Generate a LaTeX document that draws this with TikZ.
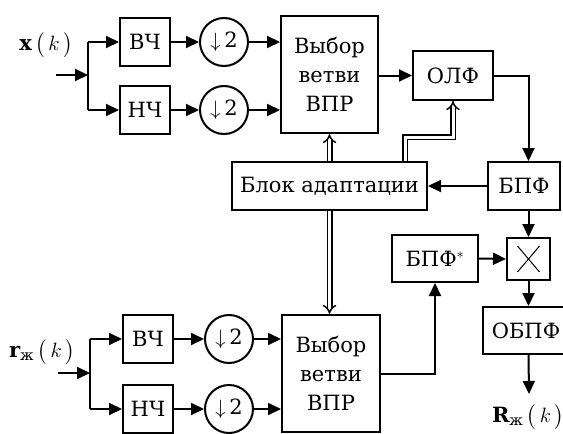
\documentclass[tikz,border=0pt]{standalone}
\usepackage{amsmath}
\usepackage{fontspec}
\setmainfont{DejaVu Serif}
\usepackage{tikz}
\usetikzlibrary{arrows.meta}

\begin{document}
\begin{tikzpicture}[
    x=1pt, y=-1pt,
    >={Triangle[length=13pt,width=12pt]},
    line width=2pt,
    txt/.style={font=\fontsize{21}{29}\selectfont, inner sep=0pt},
    blok/.style={txt, draw, rectangle, align=center},
    dec/.style={txt, draw, circle, minimum size=48pt},
    arr/.style={->},
    dbl/.style={double, double distance=3pt, line width=1.5pt, -{Implies[scale=1.6]}}
]

\useasboundingbox (0,0) rectangle (563,434);

% Входной сигнал x(k)
\node[txt] (xk) at (46,45) {$\mathbf{x}\,\bigl(\,k\,\bigr)$};
\coordinate (inx) at (56,75);
\coordinate (brx) at (88,75);

% Верхняя ветвь: фильтры
\node[blok, minimum width=50pt, minimum height=48pt] (vch1) at (145,42) {ВЧ};
\node[blok, minimum width=50pt, minimum height=48pt] (nch1) at (145,110) {НЧ};

% Децимация
\node[dec] (dn1) at (224,42) {$\downarrow$\,2};
\node[dec] (dn2) at (224,110) {$\downarrow$\,2};

% Выбор ветви (верх)
\node[blok, minimum width=97pt, minimum height=117pt] (sel1) at (329.5,74.5) {Выбор\\ветви\\ВПР};

% ОЛФ
\node[blok, minimum width=80pt, minimum height=49pt] (olf) at (453,75.5) {ОЛФ};

% БПФ
\node[blok, minimum width=72pt, minimum height=48pt] (bpf) at (524,186) {БПФ};

% Блок адаптации
\node[blok, minimum width=195pt, minimum height=48pt] (adapt) at (329.5,186) {Блок адаптации};

% Нижняя ветвь: вход r(k)
\node[txt] (rk) at (42,352) {$\mathbf{r}_{\text{ж}}\,\bigl(\,k\,\bigr)$};
\coordinate (inr) at (58,373);
\coordinate (brr) at (90,373);

\node[blok, minimum width=50pt, minimum height=48pt] (vch2) at (148,339) {ВЧ};
\node[blok, minimum width=50pt, minimum height=48pt] (nch2) at (148,409) {НЧ};
\node[dec] (dn3) at (229,339) {$\downarrow$\,2};
\node[dec] (dn4) at (229,409) {$\downarrow$\,2};

% Выбор ветви (низ)
\node[blok, minimum width=98pt, minimum height=117pt] (sel2) at (331,373.5) {Выбор\\ветви\\ВПР};

% БПФ*
\node[blok, minimum width=86pt, minimum height=47pt] (bpfc) at (435,258.5) {БПФ$^{*}$};

% Умножитель
\node[blok, minimum width=43pt, minimum height=42pt] (mul) at (528.5,259) {};
\draw[line width=1pt] ([shift={(-11pt,13pt)}]mul.center) -- ([shift={(11pt,-13pt)}]mul.center);
\draw[line width=1pt] ([shift={(-11pt,-13pt)}]mul.center) -- ([shift={(11pt,13pt)}]mul.center);

% ОБПФ и выход
\node[blok, minimum width=86pt, minimum height=47pt] (obpf) at (526,330.5) {ОБПФ};
\coordinate (out) at (529,394);
\node[txt, anchor=west] (Rk) at (491,417) {$\mathbf{R}_{\text{ж}}\,\bigl(\,k\,\bigr)$};

% Связи верхней ветви
\draw[arr] (inx) -- (brx);
\draw (brx |- vch1) -- (brx |- nch1);
\draw[arr] (brx |- vch1) -- (vch1.west);
\draw[arr] (brx |- nch1) -- (nch1.west);
\draw[arr] (vch1) -- (dn1);
\draw[arr] (nch1) -- (dn2);
\draw[arr] (dn1) -- (dn1 -| sel1.west);
\draw[arr] (dn2) -- (dn2 -| sel1.west);
\draw[arr] (olf.west -| sel1.east) -- (olf.west);
\draw[arr] (olf.east) -| (bpf.north -| mul);
\draw[arr] (bpf.west) -- (adapt.east);

% Связи нижней ветви
\draw[arr] (inr) -- (brr);
\draw (brr |- vch2) -- (brr |- nch2);
\draw[arr] (brr |- vch2) -- (vch2.west);
\draw[arr] (brr |- nch2) -- (nch2.west);
\draw[arr] (vch2) -- (dn3);
\draw[arr] (nch2) -- (dn4);
\draw[arr] (dn3) -- (dn3 -| sel2.west);
\draw[arr] (dn4) -- (dn4 -| sel2.west);
\draw[arr] (sel2.east) -| (bpfc.south);
\draw[arr] (bpfc.east) -- (mul.west);
\draw[arr] (bpf.south -| mul) -- (mul.north);
\draw[arr] (mul.south) -- (obpf.north -| mul);
\draw[arr] (obpf.south -| mul) -- (out);

% Управляющие связи
\draw[dbl] (adapt.north) -- (sel1.south);
\draw[dbl] (adapt.south) -- (adapt.south |- sel2.north);
\draw[dbl] ([xshift=75.5pt]adapt.north) -- ++(0,-24) -| (olf.south);

\end{tikzpicture}
\end{document}
